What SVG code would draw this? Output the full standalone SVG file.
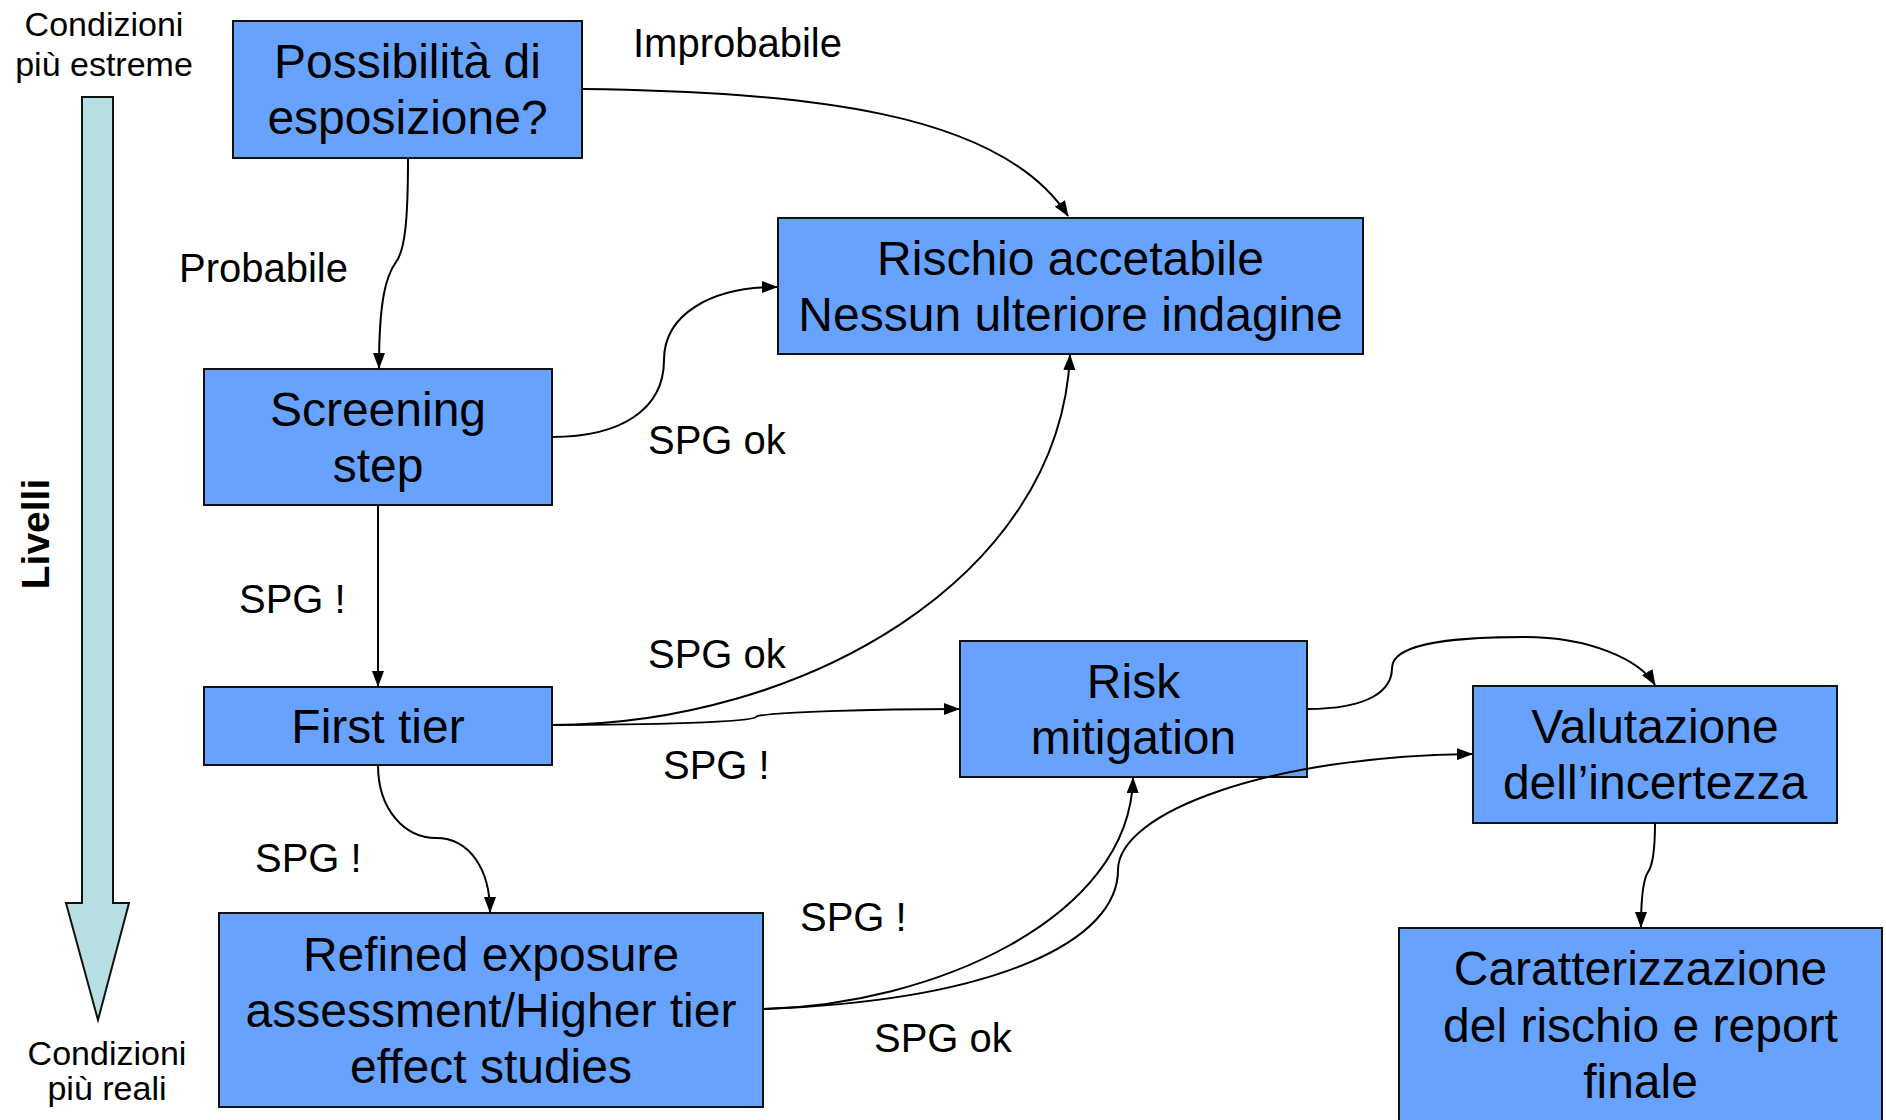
<svg xmlns="http://www.w3.org/2000/svg" width="1886" height="1120" viewBox="0 0 1886 1120">
<style>
.box{fill:#67a3fe;stroke:#111;stroke-width:2}
.bt{font-family:"Liberation Sans",Arial,sans-serif;font-size:48px;fill:#000;text-anchor:middle}
.lb{font-family:"Liberation Sans",Arial,sans-serif;font-size:40px;fill:#000}
.sd{font-family:"Liberation Sans",Arial,sans-serif;font-size:34px;fill:#000;text-anchor:middle}
.cn{fill:none;stroke:#000;stroke-width:2;marker-end:url(#ah)}
</style>
<defs>
<marker id="ah" viewBox="0 0 16 12" refX="15" refY="6" markerWidth="16" markerHeight="12" markerUnits="userSpaceOnUse" orient="auto">
<path d="M0,0 L16,6 L0,12 z" fill="#000"/>
</marker>
</defs>
<rect width="1886" height="1120" fill="#fff"/>

<g id="scale">
<polygon points="82,97 113,97 113,903 129,903 98,1020 66,903 82,903" fill="#b7dfe3" stroke="#111" stroke-width="2"/>
<text class="sd" x="104" y="36">Condizioni</text>
<text class="sd" x="104" y="76">più estreme</text>
<text class="sd" x="107" y="1065">Condizioni</text>
<text class="sd" x="107" y="1100">più reali</text>
<text x="49" y="534" transform="rotate(-90 49 534)" font-family="Liberation Sans, Arial, sans-serif" font-size="39" font-weight="bold" text-anchor="middle">Livelli</text>
</g>

<g id="possibilita">
<rect class="box" x="233" y="21" width="349" height="137"/>
<text class="bt" x="407.5" y="78">Possibilità di</text>
<text class="bt" x="407.5" y="134">esposizione?</text>
</g>
<g id="rischio">
<rect class="box" x="778" y="218" width="585" height="136"/>
<text class="bt" x="1070.5" y="275">Rischio accetabile</text>
<text class="bt" x="1070.5" y="331">Nessun ulteriore indagine</text>
</g>
<g id="screening">
<rect class="box" x="204" y="369" width="348" height="136"/>
<text class="bt" x="378" y="426">Screening</text>
<text class="bt" x="378" y="482">step</text>
</g>
<g id="firsttier">
<rect class="box" x="204" y="687" width="348" height="78"/>
<text class="bt" x="378" y="743">First tier</text>
</g>
<g id="refined">
<rect class="box" x="219" y="913" width="544" height="194"/>
<text class="bt" x="491" y="971">Refined exposure</text>
<text class="bt" x="491" y="1027">assessment/Higher tier</text>
<text class="bt" x="491" y="1083">effect studies</text>
</g>
<g id="riskmitigation">
<rect class="box" x="960" y="641" width="347" height="136"/>
<text class="bt" x="1133.5" y="698">Risk</text>
<text class="bt" x="1133.5" y="754">mitigation</text>
</g>
<g id="valutazione">
<rect class="box" x="1473" y="686" width="364" height="137"/>
<text class="bt" x="1655" y="743">Valutazione</text>
<text class="bt" x="1655" y="799">dell’incertezza</text>
</g>
<g id="caratterizzazione">
<rect class="box" x="1399" y="928" width="483" height="200"/>
<text class="bt" x="1640.5" y="985">Caratterizzazione</text>
<text class="bt" x="1640.5" y="1042">del rischio e report</text>
<text class="bt" x="1640.5" y="1098">finale</text>
</g>

<g id="connectors">
<path class="cn" d="M408,158 C408,220 405,250 396,262 C386,276 379,300 379,368"/>
<path class="cn" d="M582,89 C800,92 1000,110 1068,216"/>
<path class="cn" d="M552,437 C620,437 664,410 664,360 C664,315 710,287 777,287"/>
<path class="cn" d="M378,505 L378,686"/>
<path class="cn" d="M552,725 C800,725 1060,580 1070,355"/>
<path class="cn" d="M552,725 C650,725 752,722 756,717 C760,712 880,709 959,709"/>
<path class="cn" d="M378,765 C378,810 405,838 436,838 C470,838 490,870 490,912"/>
<path class="cn" d="M764,1009 C930,1005 1130,920 1133,778"/>
<path class="cn" d="M764,1009 C1000,1000 1118,940 1118,870 C1118,812 1270,756 1472,754"/>
<path class="cn" d="M1307,709 C1370,709 1392,690 1392,668 C1392,640 1470,637 1525,637 C1590,637 1640,660 1655,685"/>
<path class="cn" d="M1655,823 C1655,850 1653,865 1648,872 C1643,880 1641,900 1641,927"/>
<text class="lb" x="633" y="57">Improbabile</text>
<text class="lb" x="179" y="282">Probabile</text>
<text class="lb" x="648" y="454">SPG ok</text>
<text class="lb" x="239" y="613">SPG !</text>
<text class="lb" x="648" y="668">SPG ok</text>
<text class="lb" x="663" y="779">SPG !</text>
<text class="lb" x="255" y="872">SPG !</text>
<text class="lb" x="800" y="931">SPG !</text>
<text class="lb" x="874" y="1052">SPG ok</text>
</g>
</svg>
